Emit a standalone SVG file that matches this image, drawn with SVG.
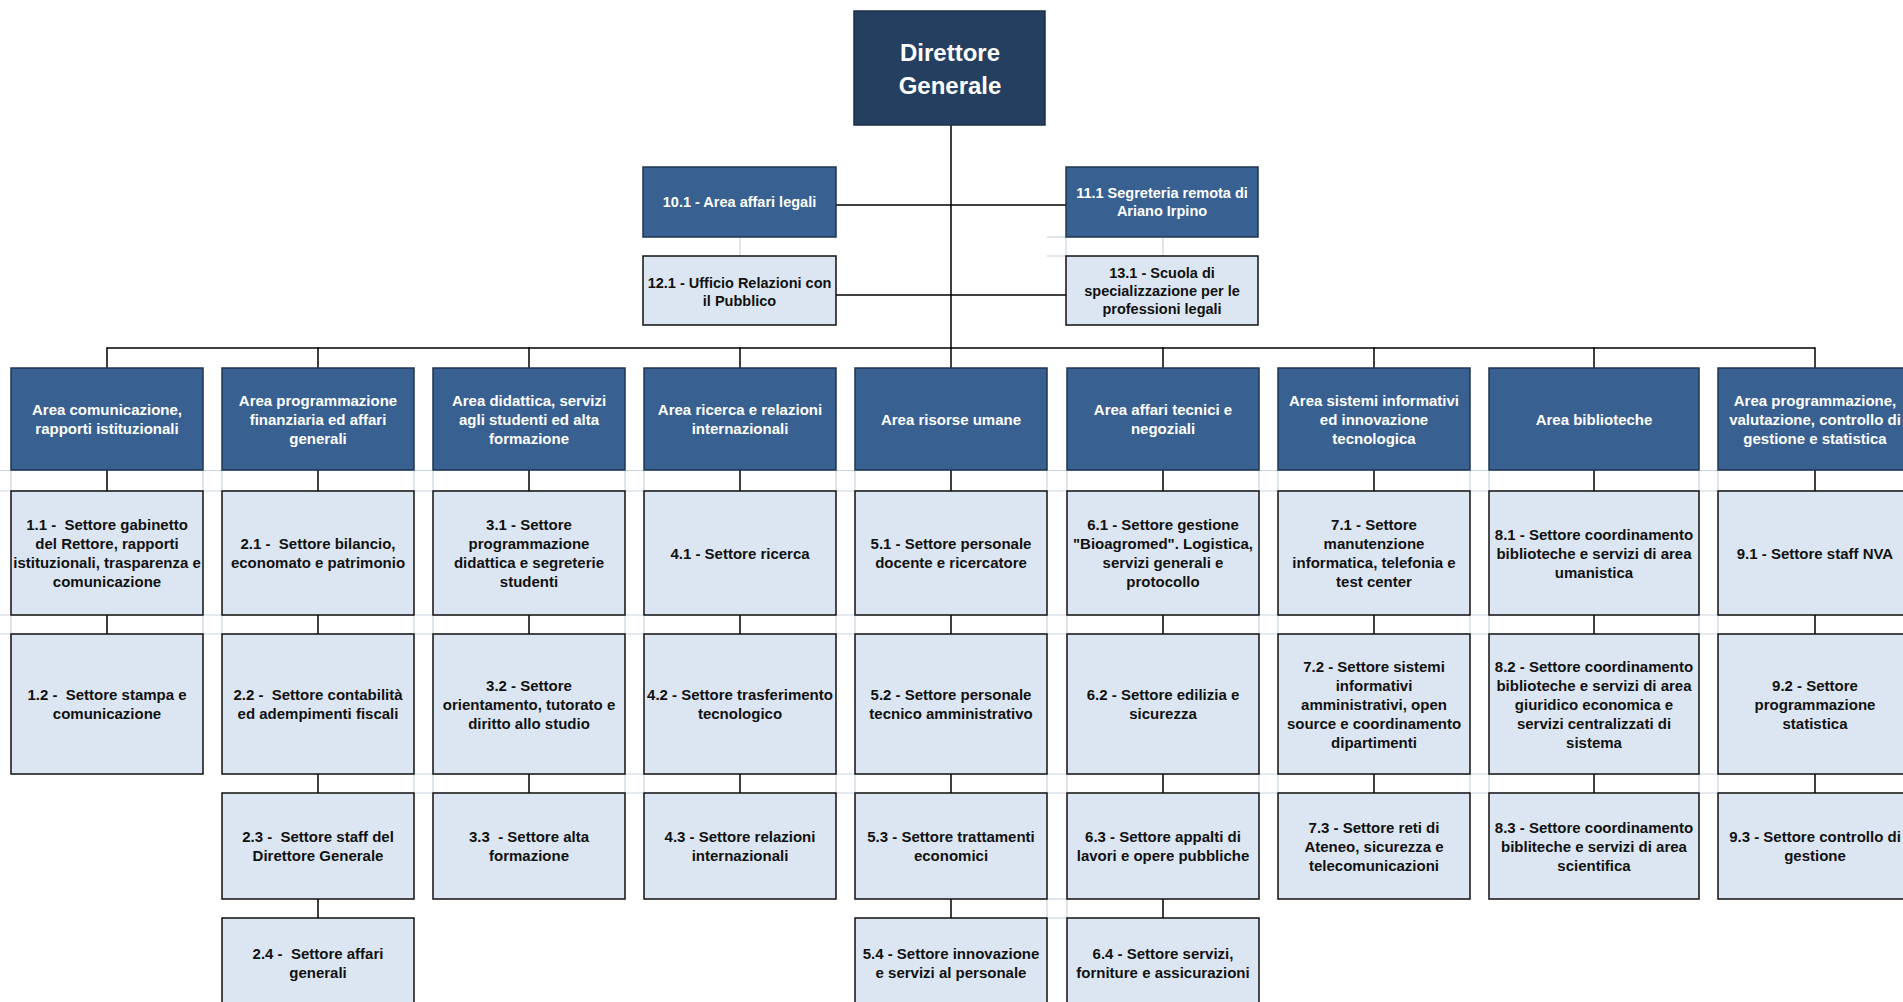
<svg xmlns="http://www.w3.org/2000/svg" width="1903" height="1002" viewBox="0 0 1903 1002">
<style>
text{font-family:"Liberation Sans",Arial,sans-serif;font-weight:bold;text-anchor:middle}
.dg rect{fill:#243F60;stroke:#1B2F48;stroke-width:1.5}
.dg text{fill:#fff;font-size:24px}
.area rect{fill:#386191;stroke:#1F3550;stroke-width:1.5}
.area text{fill:#fff;font-size:15px}
.set rect{fill:#DCE6F2;stroke:#111;stroke-width:1.5}
.set text{fill:#111;font-size:15px}
.staff text{font-size:14.5px}
.conn line{stroke:#000;stroke-width:1.5}
.grid line{stroke:#CCD5E3;stroke-width:1.2}
</style>
<rect width="1903" height="1002" fill="#fff"/>
<g class="grid">
<line x1="0" y1="470.5" x2="1903" y2="470.5"/>
<line x1="0" y1="491" x2="1903" y2="491"/>
<line x1="0" y1="615" x2="1903" y2="615"/>
<line x1="0" y1="634" x2="1903" y2="634"/>
<line x1="414" y1="774" x2="1903" y2="774"/>
<line x1="414" y1="793" x2="1903" y2="793"/>
<g>
<line x1="203" y1="470" x2="203" y2="491"/><line x1="222" y1="470" x2="222" y2="491"/>
<line x1="414" y1="470" x2="414" y2="491"/><line x1="433" y1="470" x2="433" y2="491"/>
<line x1="625" y1="470" x2="625" y2="491"/><line x1="644" y1="470" x2="644" y2="491"/>
<line x1="836" y1="470" x2="836" y2="491"/><line x1="855" y1="470" x2="855" y2="491"/>
<line x1="1047" y1="470" x2="1047" y2="491"/><line x1="1067" y1="470" x2="1067" y2="491"/>
<line x1="1259" y1="470" x2="1259" y2="491"/><line x1="1278" y1="470" x2="1278" y2="491"/>
<line x1="1470" y1="470" x2="1470" y2="491"/><line x1="1489" y1="470" x2="1489" y2="491"/>
<line x1="1699" y1="470" x2="1699" y2="491"/><line x1="1718" y1="470" x2="1718" y2="491"/>
<line x1="11" y1="470" x2="11" y2="491"/>
</g>
<g>
<line x1="203" y1="615" x2="203" y2="634"/><line x1="222" y1="615" x2="222" y2="634"/>
<line x1="414" y1="615" x2="414" y2="634"/><line x1="433" y1="615" x2="433" y2="634"/>
<line x1="625" y1="615" x2="625" y2="634"/><line x1="644" y1="615" x2="644" y2="634"/>
<line x1="836" y1="615" x2="836" y2="634"/><line x1="855" y1="615" x2="855" y2="634"/>
<line x1="1047" y1="615" x2="1047" y2="634"/><line x1="1067" y1="615" x2="1067" y2="634"/>
<line x1="1259" y1="615" x2="1259" y2="634"/><line x1="1278" y1="615" x2="1278" y2="634"/>
<line x1="1470" y1="615" x2="1470" y2="634"/><line x1="1489" y1="615" x2="1489" y2="634"/>
<line x1="1699" y1="615" x2="1699" y2="634"/><line x1="1718" y1="615" x2="1718" y2="634"/>
<line x1="11" y1="615" x2="11" y2="634"/>
</g>
<g>
<line x1="414" y1="774" x2="414" y2="793"/><line x1="433" y1="774" x2="433" y2="793"/>
<line x1="625" y1="774" x2="625" y2="793"/><line x1="644" y1="774" x2="644" y2="793"/>
<line x1="836" y1="774" x2="836" y2="793"/><line x1="855" y1="774" x2="855" y2="793"/>
<line x1="1047" y1="774" x2="1047" y2="793"/><line x1="1067" y1="774" x2="1067" y2="793"/>
<line x1="1259" y1="774" x2="1259" y2="793"/><line x1="1278" y1="774" x2="1278" y2="793"/>
<line x1="1470" y1="774" x2="1470" y2="793"/><line x1="1489" y1="774" x2="1489" y2="793"/>
<line x1="1699" y1="774" x2="1699" y2="793"/><line x1="1718" y1="774" x2="1718" y2="793"/>
</g>
<line x1="1047" y1="899" x2="1047" y2="918"/><line x1="1067" y1="899" x2="1067" y2="918"/>
<line x1="1047" y1="899" x2="1067" y2="899"/><line x1="1047" y1="918" x2="1067" y2="918"/>
<line x1="740" y1="237" x2="740" y2="256"/>
<line x1="1163" y1="237" x2="1163" y2="256"/>
<line x1="1047" y1="237" x2="1066" y2="237"/>
<line x1="1047" y1="256" x2="1066" y2="256"/>
<line x1="1066" y1="237" x2="1066" y2="256"/>
</g>
<g class="conn">
<line x1="951" y1="125" x2="951" y2="348"/>
<line x1="836" y1="205" x2="1066" y2="205"/>
<line x1="836" y1="295" x2="1066" y2="295"/>
<line x1="107" y1="348" x2="1815" y2="348"/>
<line x1="107" y1="347.3" x2="107" y2="368"/><line x1="318" y1="347.3" x2="318" y2="368"/><line x1="529" y1="347.3" x2="529" y2="368"/><line x1="740" y1="347.3" x2="740" y2="368"/><line x1="951" y1="347.3" x2="951" y2="368"/><line x1="1163" y1="347.3" x2="1163" y2="368"/><line x1="1374" y1="347.3" x2="1374" y2="368"/><line x1="1594" y1="347.3" x2="1594" y2="368"/><line x1="1815" y1="347.3" x2="1815" y2="368"/>
<line x1="107" y1="470" x2="107" y2="491"/><line x1="318" y1="470" x2="318" y2="491"/><line x1="529" y1="470" x2="529" y2="491"/><line x1="740" y1="470" x2="740" y2="491"/><line x1="951" y1="470" x2="951" y2="491"/><line x1="1163" y1="470" x2="1163" y2="491"/><line x1="1374" y1="470" x2="1374" y2="491"/><line x1="1594" y1="470" x2="1594" y2="491"/><line x1="1815" y1="470" x2="1815" y2="491"/>
<line x1="107" y1="615" x2="107" y2="634"/><line x1="318" y1="615" x2="318" y2="634"/><line x1="529" y1="615" x2="529" y2="634"/><line x1="740" y1="615" x2="740" y2="634"/><line x1="951" y1="615" x2="951" y2="634"/><line x1="1163" y1="615" x2="1163" y2="634"/><line x1="1374" y1="615" x2="1374" y2="634"/><line x1="1594" y1="615" x2="1594" y2="634"/><line x1="1815" y1="615" x2="1815" y2="634"/>
<line x1="318" y1="774" x2="318" y2="793"/><line x1="529" y1="774" x2="529" y2="793"/><line x1="740" y1="774" x2="740" y2="793"/><line x1="951" y1="774" x2="951" y2="793"/><line x1="1163" y1="774" x2="1163" y2="793"/><line x1="1374" y1="774" x2="1374" y2="793"/><line x1="1594" y1="774" x2="1594" y2="793"/><line x1="1815" y1="774" x2="1815" y2="793"/>
<line x1="318" y1="899" x2="318" y2="918"/><line x1="951" y1="899" x2="951" y2="918"/><line x1="1163" y1="899" x2="1163" y2="918"/>
</g>

<g id="direttore" class="dg"><rect x="854" y="11" width="191" height="114"/><text x="950" y="61">Direttore</text><text x="950" y="94">Generale</text></g>

<g id="n10_1" class="area staff"><rect x="643" y="167" width="193" height="70"/><text x="739.5" y="207">10.1 - Area affari legali</text></g>
<g id="n11_1" class="area staff"><rect x="1066" y="167" width="192" height="70"/><text x="1162" y="198">11.1 Segreteria remota di</text><text x="1162" y="216">Ariano Irpino</text></g>
<g id="n12_1" class="set staff"><rect x="643" y="256" width="193" height="69"/><text x="739.5" y="288">12.1 - Ufficio Relazioni con</text><text x="739.5" y="306">il Pubblico</text></g>
<g id="n13_1" class="set staff"><rect x="1066" y="256" width="192" height="69"/><text x="1162" y="278">13.1 - Scuola di</text><text x="1162" y="296">specializzazione per le</text><text x="1162" y="314">professioni legali</text></g>

<g id="a1" class="area"><rect x="11" y="368" width="192" height="102"/><text x="107" y="415">Area comunicazione,</text><text x="107" y="434">rapporti istituzionali</text></g>
<g id="a2" class="area"><rect x="222" y="368" width="192" height="102"/><text x="318" y="405.5">Area programmazione</text><text x="318" y="424.5">finanziaria ed affari</text><text x="318" y="443.5">generali</text></g>
<g id="a3" class="area"><rect x="433" y="368" width="192" height="102"/><text x="529" y="405.5">Area didattica, servizi</text><text x="529" y="424.5">agli studenti ed alta</text><text x="529" y="443.5">formazione</text></g>
<g id="a4" class="area"><rect x="644" y="368" width="192" height="102"/><text x="740" y="415">Area ricerca e relazioni</text><text x="740" y="434">internazionali</text></g>
<g id="a5" class="area"><rect x="855" y="368" width="192" height="102"/><text x="951" y="424.5">Area risorse umane</text></g>
<g id="a6" class="area"><rect x="1067" y="368" width="192" height="102"/><text x="1163" y="415">Area affari tecnici e</text><text x="1163" y="434">negoziali</text></g>
<g id="a7" class="area"><rect x="1278" y="368" width="192" height="102"/><text x="1374" y="405.5">Area sistemi informativi</text><text x="1374" y="424.5">ed innovazione</text><text x="1374" y="443.5">tecnologica</text></g>
<g id="a8" class="area"><rect x="1489" y="368" width="210" height="102"/><text x="1594" y="424.5">Area biblioteche</text></g>
<g id="a9" class="area"><rect x="1718" y="368" width="194" height="102"/><text x="1815" y="405.5">Area programmazione,</text><text x="1815" y="424.5">valutazione, controllo di</text><text x="1815" y="443.5">gestione e statistica</text></g>

<g id="s1_1" class="set"><rect x="11" y="491" width="192" height="124"/><text x="107" y="530">1.1 - &#160;Settore gabinetto</text><text x="107" y="549">del Rettore, rapporti</text><text x="107" y="568">istituzionali, trasparenza e</text><text x="107" y="587">comunicazione</text></g>
<g id="s2_1" class="set"><rect x="222" y="491" width="192" height="124"/><text x="318" y="549">2.1 - &#160;Settore bilancio,</text><text x="318" y="568">economato e patrimonio</text></g>
<g id="s3_1" class="set"><rect x="433" y="491" width="192" height="124"/><text x="529" y="530">3.1 - Settore</text><text x="529" y="549">programmazione</text><text x="529" y="568">didattica e segreterie</text><text x="529" y="587">studenti</text></g>
<g id="s4_1" class="set"><rect x="644" y="491" width="192" height="124"/><text x="740" y="558.5">4.1 - Settore ricerca</text></g>
<g id="s5_1" class="set"><rect x="855" y="491" width="192" height="124"/><text x="951" y="549">5.1 - Settore personale</text><text x="951" y="568">docente e ricercatore</text></g>
<g id="s6_1" class="set"><rect x="1067" y="491" width="192" height="124"/><text x="1163" y="530">6.1 - Settore gestione</text><text x="1163" y="549">"Bioagromed". Logistica,</text><text x="1163" y="568">servizi generali e</text><text x="1163" y="587">protocollo</text></g>
<g id="s7_1" class="set"><rect x="1278" y="491" width="192" height="124"/><text x="1374" y="530">7.1 - Settore</text><text x="1374" y="549">manutenzione</text><text x="1374" y="568">informatica, telefonia e</text><text x="1374" y="587">test center</text></g>
<g id="s8_1" class="set"><rect x="1489" y="491" width="210" height="124"/><text x="1594" y="539.5">8.1 - Settore coordinamento</text><text x="1594" y="558.5">biblioteche e servizi di area</text><text x="1594" y="577.5">umanistica</text></g>
<g id="s9_1" class="set"><rect x="1718" y="491" width="194" height="124"/><text x="1815" y="558.5">9.1 - Settore staff NVA</text></g>

<g id="s1_2" class="set"><rect x="11" y="634" width="192" height="140"/><text x="107" y="700">1.2 - &#160;Settore stampa e</text><text x="107" y="719">comunicazione</text></g>
<g id="s2_2" class="set"><rect x="222" y="634" width="192" height="140"/><text x="318" y="700">2.2 - &#160;Settore contabilità</text><text x="318" y="719">ed adempimenti fiscali</text></g>
<g id="s3_2" class="set"><rect x="433" y="634" width="192" height="140"/><text x="529" y="690.5">3.2 - Settore</text><text x="529" y="709.5">orientamento, tutorato e</text><text x="529" y="728.5">diritto allo studio</text></g>
<g id="s4_2" class="set"><rect x="644" y="634" width="192" height="140"/><text x="740" y="700">4.2 - Settore trasferimento</text><text x="740" y="719">tecnologico</text></g>
<g id="s5_2" class="set"><rect x="855" y="634" width="192" height="140"/><text x="951" y="700">5.2 - Settore personale</text><text x="951" y="719">tecnico amministrativo</text></g>
<g id="s6_2" class="set"><rect x="1067" y="634" width="192" height="140"/><text x="1163" y="700">6.2 - Settore edilizia e</text><text x="1163" y="719">sicurezza</text></g>
<g id="s7_2" class="set"><rect x="1278" y="634" width="192" height="140"/><text x="1374" y="671.5">7.2 - Settore sistemi</text><text x="1374" y="690.5">informativi</text><text x="1374" y="709.5">amministrativi, open</text><text x="1374" y="728.5">source e coordinamento</text><text x="1374" y="747.5">dipartimenti</text></g>
<g id="s8_2" class="set"><rect x="1489" y="634" width="210" height="140"/><text x="1594" y="671.5">8.2 - Settore coordinamento</text><text x="1594" y="690.5">biblioteche e servizi di area</text><text x="1594" y="709.5">giuridico economica e</text><text x="1594" y="728.5">servizi centralizzati di</text><text x="1594" y="747.5">sistema</text></g>
<g id="s9_2" class="set"><rect x="1718" y="634" width="194" height="140"/><text x="1815" y="690.5">9.2 - Settore</text><text x="1815" y="709.5">programmazione</text><text x="1815" y="728.5">statistica</text></g>

<g id="s2_3" class="set"><rect x="222" y="793" width="192" height="106"/><text x="318" y="842">2.3 - &#160;Settore staff del</text><text x="318" y="861">Direttore Generale</text></g>
<g id="s3_3" class="set"><rect x="433" y="793" width="192" height="106"/><text x="529" y="842">3.3 &#160;- Settore alta</text><text x="529" y="861">formazione</text></g>
<g id="s4_3" class="set"><rect x="644" y="793" width="192" height="106"/><text x="740" y="842">4.3 - Settore relazioni</text><text x="740" y="861">internazionali</text></g>
<g id="s5_3" class="set"><rect x="855" y="793" width="192" height="106"/><text x="951" y="842">5.3 - Settore trattamenti</text><text x="951" y="861">economici</text></g>
<g id="s6_3" class="set"><rect x="1067" y="793" width="192" height="106"/><text x="1163" y="842">6.3 - Settore appalti di</text><text x="1163" y="861">lavori e opere pubbliche</text></g>
<g id="s7_3" class="set"><rect x="1278" y="793" width="192" height="106"/><text x="1374" y="832.5">7.3 - Settore reti di</text><text x="1374" y="851.5">Ateneo, sicurezza e</text><text x="1374" y="870.5">telecomunicazioni</text></g>
<g id="s8_3" class="set"><rect x="1489" y="793" width="210" height="106"/><text x="1594" y="832.5">8.3 - Settore coordinamento</text><text x="1594" y="851.5">bibliteche e servizi di area</text><text x="1594" y="870.5">scientifica</text></g>
<g id="s9_3" class="set"><rect x="1718" y="793" width="194" height="106"/><text x="1815" y="842">9.3 - Settore controllo di</text><text x="1815" y="861">gestione</text></g>

<g id="s2_4" class="set"><rect x="222" y="918" width="192" height="100"/><text x="318" y="958.5">2.4 - &#160;Settore affari</text><text x="318" y="977.5">generali</text></g>
<g id="s5_4" class="set"><rect x="855" y="918" width="192" height="100"/><text x="951" y="958.5">5.4 - Settore innovazione</text><text x="951" y="977.5">e servizi al personale</text></g>
<g id="s6_4" class="set"><rect x="1067" y="918" width="192" height="100"/><text x="1163" y="958.5">6.4 - Settore servizi,</text><text x="1163" y="977.5">forniture e assicurazioni</text></g>
</svg>
